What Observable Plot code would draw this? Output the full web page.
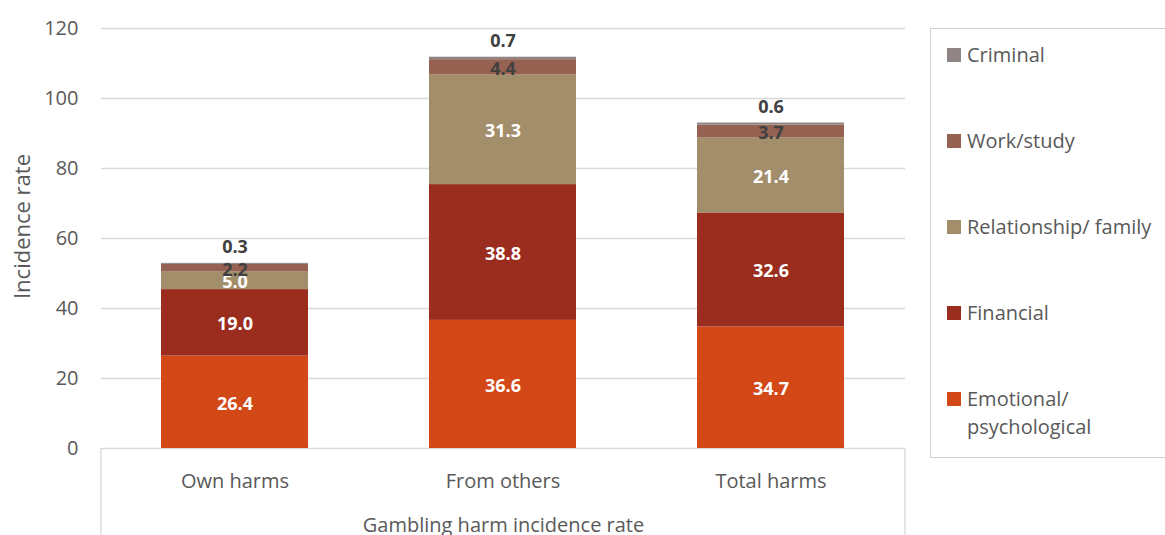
<!DOCTYPE html>
<html>
<head>
<meta charset="utf-8">
<script src="https://cdn.jsdelivr.net/npm/d3@7"></script>
<script src="https://cdn.jsdelivr.net/npm/@observablehq/plot@0.6"></script>
<style>
  html, body { margin: 0; padding: 0; background: #fff; overflow: hidden; }
  #wrap { position: relative; width: 1165px; height: 535px; font-family: "Open Sans", sans-serif; }
  #legend { position: absolute; left: 930px; top: 28px; width: 260px; height: 430px; box-sizing: border-box;
            border: 1.5px solid #d0d0d0; background: #fff; color: #595959; font-size: 20px; }
  .item { position: absolute; left: 16px; line-height: 28px; display: flex; align-items: flex-start; }
  .sw { width: 14px; height: 14px; margin-top: 7px; margin-right: 6px; flex: none; }
</style>
</head>
<body>
<div id="wrap"><div id="chart"></div><div id="legend"></div></div>
<script>
const categories = ["Own harms", "From others", "Total harms"];
const seriesNames = ["Emotional/ psychological", "Financial", "Relationship/ family", "Work/study", "Criminal"];
const seriesColors = ["#D34817", "#9B2D1F", "#A28E6A", "#956251", "#918485"];
const emotional = [26.4, 36.6, 34.7];
const financial = [19.0, 38.8, 32.6];
const relationship = [5.0, 31.3, 21.4];
const workStudy = [2.2, 4.4, 3.7];
const criminal = [0.3, 0.7, 0.6];
const yTicks = [0, 20, 40, 60, 80, 100, 120];
const yLabel = "Incidence rate";
const xGroupLabel = "Gambling harm incidence rate";

const seriesValues = [emotional, financial, relationship, workStudy, criminal];
const data = [];
seriesNames.forEach((s, i) => categories.forEach((c, j) => data.push({category: c, series: s, value: seriesValues[i][j]})));

const whiteSeries = seriesNames.slice(0, 3);
const fmt = v => v.toFixed(1);

const chart = Plot.plot({
  width: 1165,
  height: 535,
  marginLeft: 101,
  marginRight: 260,
  marginTop: 28,
  marginBottom: 87,
  style: {fontFamily: "Open Sans, sans-serif", fontSize: "20px", color: "#595959", background: "transparent"},
  x: {domain: categories, paddingInner: 0.45, paddingOuter: 0.225, label: null},
  y: {domain: [0, 120], label: null},
  color: {domain: seriesNames, range: seriesColors},
  marks: [
    Plot.gridY(yTicks, {stroke: "#d9d9d9", strokeOpacity: 1, strokeWidth: 1.3}),
    Plot.axisY(yTicks, {tickSize: 0, tickPadding: 23, fontSize: 20, fill: "#595959", label: null}),
    Plot.axisX({tickSize: 0, tickPadding: 25, fontSize: 20, fill: "#595959", label: null}),
    Plot.barY(data, Plot.stackY({x: "category", y: "value", fill: "series"})),
    Plot.text(data, Plot.stackY({x: "category", y: "value",
      text: d => whiteSeries.includes(d.series) ? fmt(d.value) : "",
      fill: "white", fontSize: 18, fontWeight: "bold", dy: 1.5})),
    Plot.text(data, Plot.stackY({x: "category", y: "value",
      text: d => d.series === "Work/study" ? fmt(d.value) : "",
      fill: "#404040", fontSize: 18, fontWeight: "bold", dy: 2})),
    Plot.text(data, Plot.stackY2({x: "category", y: "value",
      text: d => d.series === "Criminal" ? fmt(d.value) : "",
      fill: "#404040", fontSize: 18, fontWeight: "bold", dy: -16})),
    Plot.text([yLabel], {frameAnchor: "left", textAnchor: "middle", text: d => d, rotate: -90, dx: -79, dy: -12, fontSize: 22, fill: "#595959"}),
    Plot.text([xGroupLabel], {frameAnchor: "bottom", textAnchor: "middle", text: d => d, dy: 83, fontSize: 20, fill: "#595959"})
  ]
});

document.getElementById("chart").appendChild(chart);

// category group separators below the axis
const xr = chart.scale("x").range;
const yr = chart.scale("y").range;
const svg = d3.select(chart);
[xr[0], xr[1]].forEach(x => {
  svg.append("line").attr("x1", x).attr("x2", x).attr("y1", yr[0]).attr("y2", 535)
    .attr("stroke", "#d9d9d9").attr("stroke-width", 1.3);
});

// legend (top to bottom: reverse stack order)
const legend = document.getElementById("legend");
const order = seriesNames.map((s, i) => i).reverse();
order.forEach((idx, k) => {
  const it = document.createElement("div");
  it.className = "item";
  it.style.top = (27 + k * 86 - 14 - 1.5) + "px";
  const sw = document.createElement("div");
  sw.className = "sw";
  sw.style.background = seriesColors[idx];
  const tx = document.createElement("div");
  const name = seriesNames[idx];
  if (name === "Emotional/ psychological") tx.innerHTML = "Emotional/<br>psychological";
  else tx.textContent = name;
  it.appendChild(sw); it.appendChild(tx);
  legend.appendChild(it);
});
</script>
</body>
</html>
